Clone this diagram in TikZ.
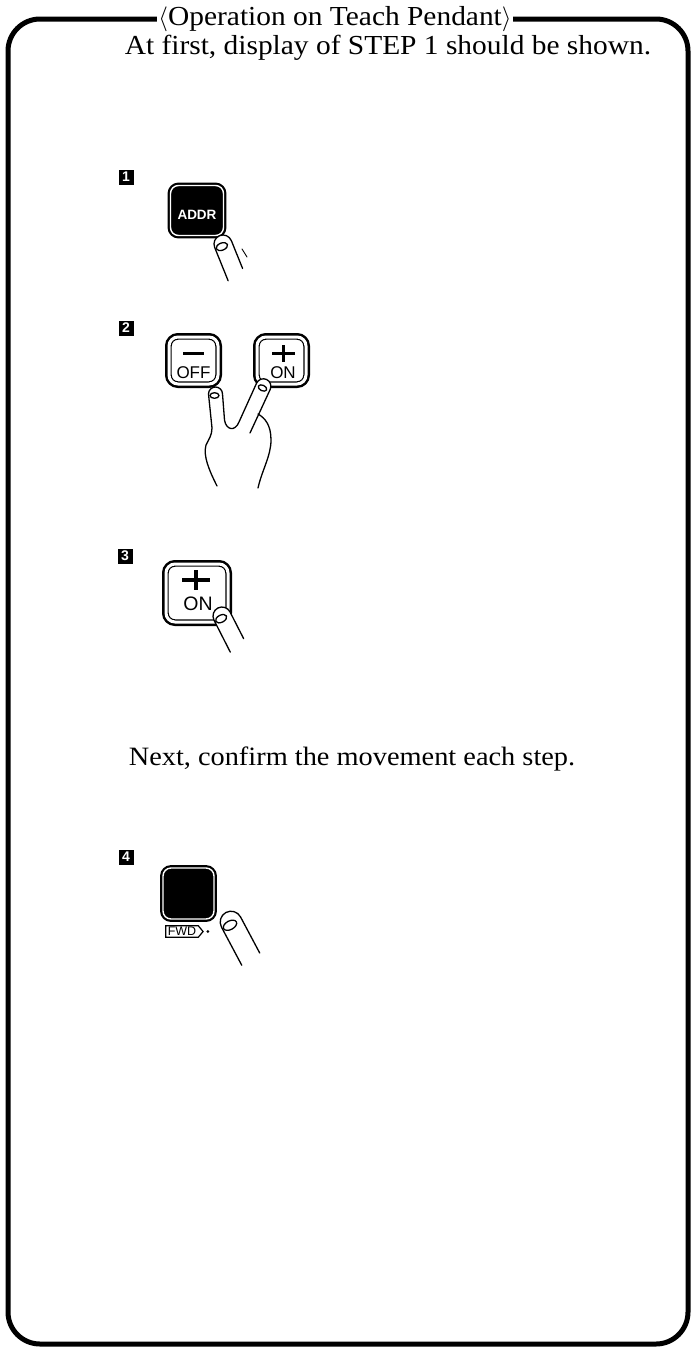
\documentclass[tikz,border=0pt]{standalone}
\usepackage{fontspec}
\setmainfont{Liberation Serif}[FakeStretch=1.07]
\newfontfamily\keyfont{Liberation Sans}
\usetikzlibrary{shapes.symbols}

\tikzset{
  % a finger seen from above: open base, rounded tip, nail
  pics/finger/.style 2 args={code={
    \fill[white] (-9,#1) -- (-9,0) arc[start angle=180,end angle=360,radius=9] -- (9,#2) -- cycle;
    \draw[ink] (-9,#1) -- (-9,0) arc[start angle=180,end angle=360,radius=9] -- (9,#2);
    \draw[ink] (-2,2) ellipse[x radius=6, y radius=3.6];
  }}
}

\begin{document}
\begin{tikzpicture}[x=1pt,y=-1pt,
  ink/.style={line width=1.3pt, line cap=round, line join=round},
  frame/.style={line width=5pt, rounded corners=32pt},
  heading/.style={fill=white, inner xsep=1pt, inner ysep=0pt, font=\fontsize{27.5}{32}\selectfont},
  remark/.style={font=\fontsize{27.5}{32}\selectfont, anchor=base, inner sep=0pt},
  badge/.style={fill=black, text=white, minimum size=15pt, inner sep=0pt,
    font=\keyfont\bfseries\fontsize{14}{14}\selectfont},
  darkkey/.style={fill=black, draw=black, double=white, line width=2.2pt,
    double distance=1.4pt, rounded corners=8pt, inner sep=0pt},
  lightkey/.style={fill=white, draw=black, double=white, line width=1.2pt,
    double distance=3pt, preaction={draw=black, line width=8pt},
    rounded corners=9pt, inner sep=0pt},
  keytxt/.style={font=\keyfont\fontsize{17}{17}\selectfont, inner sep=0pt},
  sign/.style={line width=3pt},
  tag/.style={draw, line width=1.2pt, signal, signal to=east, signal pointer angle=100,
    inner xsep=2pt, inner ysep=1.5pt, font=\keyfont\fontsize{12.5}{12.5}\selectfont},
]
\useasboundingbox (0,0) rectangle (694,1349);

% outer frame with its heading
\draw[frame] (8,19) rectangle (688,1344);
\node[heading] (title) at (335,19) {$\langle$Operation on Teach Pendant$\rangle$};

\node[remark] (intro) at (388,54) {At first, display of STEP 1 should be shown.};

% step 1: ADDR
\node[badge] (b1) at (126,177) {1};
\node[darkkey, minimum width=53pt, minimum height=50pt] (addr) at (197,210.5) {};
\node[keytxt, text=white, font=\keyfont\bfseries\fontsize{13.5}{13.5}\selectfont] (addrtxt) at (197,215) {ADDR};
\pic[rotate=22] at (223,244) {finger={36}{30}};
\draw[ink, line width=0.9pt] (242,249) -- (247,257);

% step 2: OFF and ON pressed together
\node[badge] (b2) at (126,328) {2};
\node[lightkey, minimum width=49pt, minimum height=47pt] (off) at (193.5,360.5) {};
\node[lightkey, minimum width=49pt, minimum height=47pt] (on) at (281.5,360.5) {};
\draw[sign] (183,353.5) -- (204,353.5);
\node[keytxt] (offtxt) at (193.5,373) {OFF};
\draw[sign] (272,353.5) -- (295,353.5) (283.5,345) -- (283.5,362);
\node[keytxt] (ontxt) at (283,373) {ON};

% hand making a V
\fill[white] (217,486) .. controls (209,470) and (203,456) .. (206,445)
  .. controls (209,439) and (212,435) .. (212,428) -- (208.5,394)
  arc[start angle=180,end angle=360,radius=7] -- (224.5,420)
  .. controls (226,430) and (235,432) .. (239,422) -- (256.6,383.1)
  arc[start angle=205,end angle=385,radius=7.5] -- (258,414)
  .. controls (265,418) and (271,425) .. (271,440)
  .. controls (271,456) and (262,470) .. (258,488) -- cycle;
\draw[ink] (217,486) .. controls (209,470) and (203,456) .. (206,445)
  .. controls (209,439) and (212,435) .. (212,428) -- (208.5,394)
  arc[start angle=180,end angle=360,radius=7] -- (224.5,420)
  .. controls (226,430) and (235,432) .. (239,422) -- (256.6,383.1)
  arc[start angle=205,end angle=385,radius=7.5] -- (250,433);
\draw[ink] (258,414) .. controls (265,418) and (271,425) .. (271,440)
  .. controls (271,456) and (262,470) .. (258,488);
\draw[ink] (214.5,395.5) ellipse[x radius=4.5, y radius=2.8];
\draw[ink, rotate around={-25:(262.5,388)}] (262.5,388) ellipse[x radius=4.5, y radius=2.8];

% step 3: ON
\node[badge] (b3) at (125,556) {3};
\node[lightkey, minimum width=62pt, minimum height=58pt] (on3) at (197,593) {};
\draw[sign, line width=3.3pt] (182,580) -- (210,580) (196,570) -- (196,590);
\node[keytxt, font=\keyfont\fontsize{19.5}{19.5}\selectfont] (on3txt) at (198,603.5) {ON};
\pic[rotate=27] at (222,616) {finger={36}{30}};

\node[remark, font=\fontsize{26.5}{30}\selectfont] (next) at (352,765) {Next, confirm the movement each step.};

% step 4: FWD
\node[badge] (b4) at (126,857) {4};
\node[darkkey, minimum width=51pt, minimum height=51pt] (fwdkey) at (188.5,893.5) {};
\node[tag] (fwd) at (182,931.5) {FWD};
\fill (fwd.east) ++(4,0) circle (1.5);
\pic[rotate=28, scale=1.2] at (231,922) {finger={36}{34}};

\end{tikzpicture}
\end{document}
